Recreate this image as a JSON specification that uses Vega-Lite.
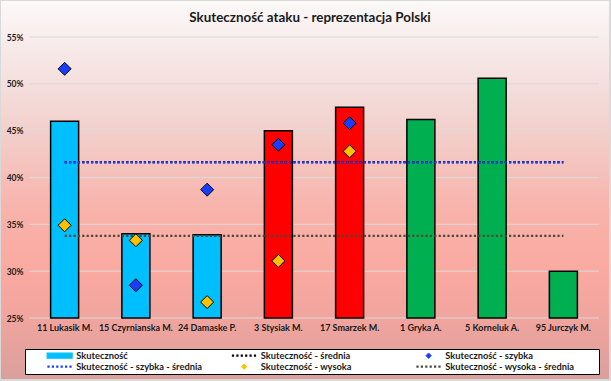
{
  "$schema": "https://vega.github.io/schema/vega-lite/v6.json",
  "width": 570,
  "height": 281,
  "autosize": {"type": "none"},
  "padding": {"left": 29, "top": 37, "right": 12, "bottom": 63},
  "background": "#d9d9d9",
  "title": {"text": "Skuteczność ataku - reprezentacja Polski", "font": "Lato", "fontSize": 13.4, "fontWeight": "bold", "color": "#1a1a1a", "anchor": "middle", "offset": -23, "dx": -4, "zindex": 1},
  "config": {"view": {"stroke": null}, "font": "Lato"},
  "datasets": {
    "players": [
      {"name": "11 Lukasik M.", "grp": "b", "skut": 0.460, "szybka": 0.516, "wysoka": 0.349, "sr": 0.4165, "szsr": 0.4162, "wsr": 0.3376},
      {"name": "15 Czyrnianska M.", "grp": "b", "skut": 0.340, "szybka": 0.285, "wysoka": 0.333, "sr": 0.4165, "szsr": 0.4162, "wsr": 0.3376},
      {"name": "24 Damaske P.", "grp": "b", "skut": 0.339, "szybka": 0.387, "wysoka": 0.267, "sr": 0.4165, "szsr": 0.4162, "wsr": 0.3376},
      {"name": "3 Stysiak M.", "grp": "r", "skut": 0.450, "szybka": 0.435, "wysoka": 0.311, "sr": 0.4165, "szsr": 0.4162, "wsr": 0.3376},
      {"name": "17 Smarzek M.", "grp": "r", "skut": 0.475, "szybka": 0.458, "wysoka": 0.428, "sr": 0.4165, "szsr": 0.4162, "wsr": 0.3376},
      {"name": "1 Gryka A.", "grp": "g", "skut": 0.462, "szybka": null, "wysoka": null, "sr": 0.4165, "szsr": 0.4162, "wsr": 0.3376},
      {"name": "5 Korneluk A.", "grp": "g", "skut": 0.506, "szybka": null, "wysoka": null, "sr": 0.4165, "szsr": 0.4162, "wsr": 0.3376},
      {"name": "95 Jurczyk M.", "grp": "g", "skut": 0.300, "szybka": null, "wysoka": null, "sr": 0.4165, "szsr": 0.4162, "wsr": 0.3376}
    ],
    "grid": [{"g": 0.25}, {"g": 0.30}, {"g": 0.35}, {"g": 0.40}, {"g": 0.45}, {"g": 0.50}, {"g": 0.55}]
  },
  "layer": [
    {
      "data": {"values": [{"bg": 1}]},
      "mark": {"type": "rect", "clip": false, "stroke": null, "fill": {"gradient": "linear", "x1": 0, "y1": 0, "x2": 0, "y2": 1, "stops": [
        {"offset": 0, "color": "#fcf9f9"},
        {"offset": 0.15, "color": "#f6e7e6"},
        {"offset": 0.35, "color": "#f2cfcb"},
        {"offset": 0.55, "color": "#f8b3ab"},
        {"offset": 0.72, "color": "#faa9a0"},
        {"offset": 0.86, "color": "#eea49e"},
        {"offset": 1, "color": "#da9f9c"}
      ]}},
      "encoding": {
        "x": {"datum": -0.04912, "type": "quantitative", "scale": {"domain": [0, 1], "nice": false, "zero": false}, "axis": null},
        "x2": {"datum": 1.01754},
        "y": {"datum": 0.58843, "type": "quantitative", "scale": {"domain": [0.25, 0.55], "nice": false, "zero": false}, "axis": {"title": null, "format": ".0%", "values": [0.25, 0.3, 0.35, 0.4, 0.45, 0.5, 0.55], "grid": false, "ticks": false, "domain": false, "labelPadding": 6, "labelFont": "Lato", "labelFontSize": 8.5, "labelFontWeight": "bold", "labelColor": "#1a1a1a", "zindex": 1}},
        "y2": {"datum": 0.18488}
      }
    },
    {
      "layer": [
        {
          "data": {"name": "grid"},
          "mark": {"type": "rule", "color": "#d9d9d9", "strokeWidth": 1},
          "encoding": {"y": {"field": "g", "type": "quantitative"}}
        },
        {
          "data": {"name": "players"},
          "mark": {"type": "bar", "stroke": "#000000", "strokeWidth": 1.5},
          "encoding": {
            "x": {"field": "name", "type": "nominal", "sort": null, "scale": {"paddingInner": 0.607, "paddingOuter": 0.3035}, "axis": {"title": null, "labelAngle": 0, "ticks": false, "domain": false, "labelPadding": 5, "labelFont": "Lato", "labelFontSize": 9, "labelFontWeight": "bold", "labelColor": "#1a1a1a", "zindex": 1}},
            "y": {"field": "skut", "type": "quantitative", "scale": {"domain": [0.25, 0.55], "nice": false, "zero": false}, "axis": {"title": null, "format": ".0%", "values": [0.25, 0.3, 0.35, 0.4, 0.45, 0.5, 0.55], "grid": false, "ticks": false, "domain": false, "labelPadding": 6, "labelFont": "Lato", "labelFontSize": 8.5, "labelFontWeight": "bold", "labelColor": "#1a1a1a", "zindex": 1}},
            "y2": {"datum": 0.25},
            "fill": {"field": "grp", "type": "nominal", "scale": {"domain": ["b", "r", "g"], "range": ["#00bfff", "#ff0000", "#00b050"]}, "legend": null}
          }
        },
        {
          "data": {"name": "players"},
          "mark": {"type": "line", "strokeDash": [2.2, 2.2], "strokeWidth": 2.2},
          "encoding": {
            "x": {"field": "name", "type": "nominal", "sort": null},
            "y": {"field": "sr", "type": "quantitative"},
            "color": {"datum": "Skuteczność - średnia", "type": "nominal",
              "scale": {"domain": ["Skuteczność", "Skuteczność - szybka - średnia", "Skuteczność - średnia", "Skuteczność - wysoka", "Skuteczność - szybka", "Skuteczność - wysoka - średnia"], "range": ["#00bfff", "#1a3cff", "#000000", "#ffc000", "#1a3cff", "#4a4a3a"]},
              "legend": {
                "orient": "none", "legendX": -4, "legendY": 312, "columns": 3,
                "title": " ", "titleOrient": "right", "titlePadding": 23, "titleFontSize": 8,
                "padding": 2, "strokeColor": "#000000", "fillColor": "#ffffff", "cornerRadius": 0,
                "gridAlign": "all", "columnPadding": 5.5, "rowPadding": 1,
                "symbolSize": 100, "symbolOffset": 28, "labelOffset": 12,
                "labelFont": "Lato", "labelFontSize": 9.3, "labelFontWeight": "bold", "labelColor": "#1a1a1a", "labelLimit": 0,
                "encode": {"symbols": {"update": {
                  "shape": {"signal": "datum.index === 0 ? 'M-1,-0.2H1V0.2H-1Z' : (datum.index === 3 || datum.index === 4) ? 'diamond' : 'stroke'"},
                  "size": {"signal": "datum.index === 0 ? 625 : (datum.index === 3 || datum.index === 4) ? 30 : 600"},
                  "fill": {"signal": "datum.index === 0 ? '#00bfff' : datum.index === 4 ? '#1a2f9a' : datum.index === 3 ? '#7a5f10' : 'transparent'"},
                  "stroke": {"signal": "datum.index === 0 ? '#0e2a38' : datum.index === 2 ? '#000000' : datum.index === 1 ? '#1a3cff' : datum.index === 5 ? '#4a4a3a' : '#222222'"},
                  "strokeWidth": {"signal": "datum.index === 0 ? 1.2 : (datum.index === 3 || datum.index === 4) ? 0.8 : 2.2"},
                  "strokeDash": {"signal": "(datum.index === 1 || datum.index === 2 || datum.index === 5) ? [2.2, 2.2] : []"},
                  "opacity": {"value": 1}
                }}}
              }
            }
          }
        },
        {
          "data": {"name": "players"},
          "mark": {"type": "line", "strokeDash": [2.2, 2.2], "strokeWidth": 2.2},
          "encoding": {
            "x": {"field": "name", "type": "nominal", "sort": null},
            "y": {"field": "wsr", "type": "quantitative"},
            "color": {"datum": "Skuteczność - wysoka - średnia", "type": "nominal"}
          }
        },
        {
          "data": {"name": "players"},
          "mark": {"type": "line", "strokeDash": [2.2, 2.2], "strokeWidth": 2.2},
          "encoding": {
            "x": {"field": "name", "type": "nominal", "sort": null},
            "y": {"field": "szsr", "type": "quantitative"},
            "color": {"datum": "Skuteczność - szybka - średnia", "type": "nominal"}
          }
        },
        {
          "data": {"name": "players"},
          "mark": {"type": "point", "shape": "diamond", "filled": true, "size": 169, "stroke": "#000000", "strokeWidth": 1, "opacity": 1},
          "encoding": {
            "x": {"field": "name", "type": "nominal", "sort": null},
            "y": {"field": "szybka", "type": "quantitative"},
            "color": {"datum": "Skuteczność - szybka", "type": "nominal"}
          }
        },
        {
          "data": {"name": "players"},
          "mark": {"type": "point", "shape": "diamond", "filled": true, "size": 169, "stroke": "#000000", "strokeWidth": 1, "opacity": 1},
          "encoding": {
            "x": {"field": "name", "type": "nominal", "sort": null},
            "y": {"field": "wysoka", "type": "quantitative"},
            "color": {"datum": "Skuteczność - wysoka", "type": "nominal"}
          }
        }
      ]
    }
  ],
  "resolve": {"scale": {"x": "independent"}}
}
